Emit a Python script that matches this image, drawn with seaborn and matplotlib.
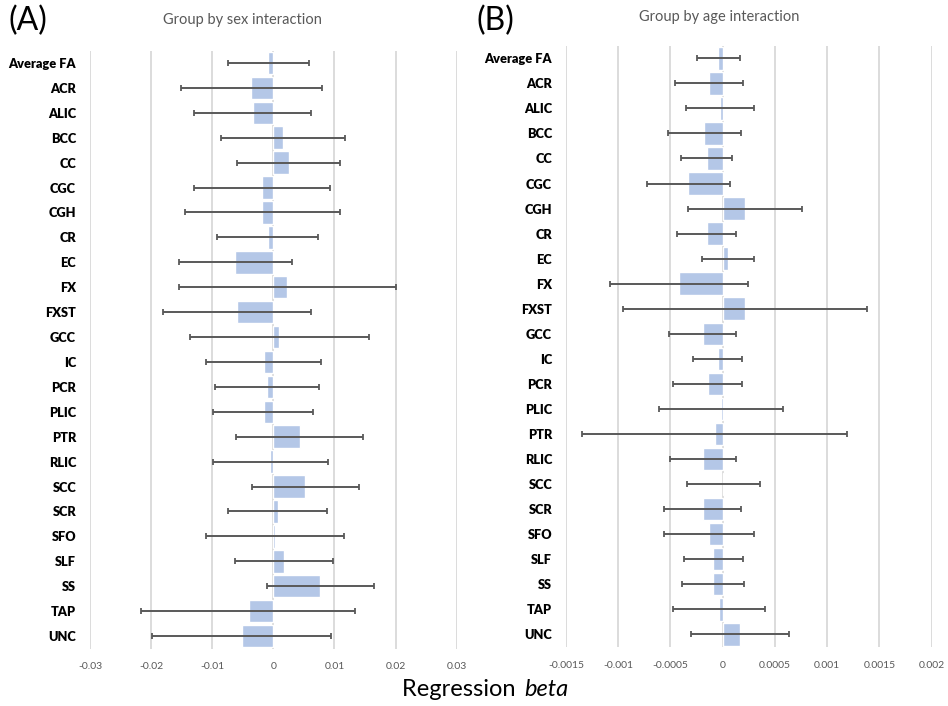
import numpy as np
import pandas as pd
import matplotlib
matplotlib.use("Agg")
import matplotlib.pyplot as plt
import seaborn as sns

# White-matter tracts (rows, top to bottom)
tracts = ["Average FA", "ACR", "ALIC", "BCC", "CC", "CGC", "CGH", "CR", "EC", "FX",
          "FXST", "GCC", "IC", "PCR", "PLIC", "PTR", "RLIC", "SCC", "SCR", "SFO",
          "SLF", "SS", "TAP", "UNC"]

# (A) Group by sex interaction: beta and 95% CI bounds
sex_beta = [-0.0008, -0.0036, -0.0033, 0.0016, 0.0025, -0.0019, -0.0018, -0.0009,
            -0.0062, 0.0023, -0.0059, 0.0010, -0.0016, -0.0010, -0.0016, 0.0043,
            -0.0005, 0.0052, 0.0007, 0.0002, 0.0017, 0.0077, -0.0040, -0.0052]
sex_lo = [-0.0074, -0.0151, -0.0130, -0.0086, -0.0060, -0.0130, -0.0145, -0.0092,
          -0.0154, -0.0154, -0.0181, -0.0136, -0.0111, -0.0095, -0.0099, -0.0061,
          -0.0098, -0.0035, -0.0075, -0.0111, -0.0062, -0.0011, -0.0216, -0.0199]
sex_hi = [0.0058, 0.0080, 0.0062, 0.0117, 0.0109, 0.0092, 0.0109, 0.0073,
          0.0030, 0.0201, 0.0062, 0.0156, 0.0078, 0.0074, 0.0065, 0.0146,
          0.0089, 0.0140, 0.0088, 0.0116, 0.0097, 0.0164, 0.0134, 0.0095]

# (B) Group by age interaction: beta and 95% CI bounds
age_beta = [-0.000045, -0.000135, -0.000025, -0.000175, -0.000155, -0.000330, 0.000215, -0.000148,
            0.000050, -0.000415, 0.000210, -0.000188, -0.000048, -0.000142, -0.000018, -0.000075,
            -0.000186, 0.000008, -0.000192, -0.000130, -0.000090, -0.000096, -0.000036, 0.000165]
age_lo = [-0.000250, -0.000460, -0.000350, -0.000525, -0.000404, -0.000729, -0.000331, -0.000433,
          -0.000197, -0.001080, -0.000959, -0.000513, -0.000283, -0.000475, -0.000608, -0.001344,
          -0.000500, -0.000338, -0.000564, -0.000560, -0.000373, -0.000392, -0.000480, -0.000306]
age_hi = [0.000166, 0.000197, 0.000300, 0.000172, 0.000092, 0.000070, 0.000761, 0.000130,
          0.000296, 0.000245, 0.001380, 0.000130, 0.000188, 0.000188, 0.000573, 0.001191,
          0.000127, 0.000354, 0.000178, 0.000296, 0.000194, 0.000200, 0.000408, 0.000637]

sex_ticks = [-0.03, -0.02, -0.01, 0, 0.01, 0.02, 0.03]
sex_ticklabels = ["-0.03", "-0.02", "-0.01", "0", "0.01", "0.02", "0.03"]
age_ticks = [-0.0015, -0.001, -0.0005, 0, 0.0005, 0.001, 0.0015, 0.002]
age_ticklabels = ["-0.0015", "-0.001", "-0.0005", "0", "0.0005", "0.001", "0.0015", "0.002"]

sns.set_theme(style="white")
plt.rcParams["font.family"] = ["Lato", "DejaVu Sans"]

BAR = "#b4c7e7"
ERR = "#595959"
GRID = "#d9d9d9"
GREY_TXT = "#595959"

W, H = 948, 706
fig = plt.figure(figsize=(W / 100, H / 100), dpi=100)


def px_axes(x0, y0, x1, y1):
    return fig.add_axes([x0 / W, 1 - y1 / H, (x1 - x0) / W, (y1 - y0) / H])


def panel(ax, beta, lo, hi, ticks, ticklabels):
    df = pd.DataFrame({"tract": tracts, "beta": beta, "lo": lo, "hi": hi})
    sns.barplot(data=df, y="tract", x="beta", orient="h", color=BAR, saturation=1,
                width=0.9, errorbar=None, ax=ax, zorder=2)
    b = df["beta"].to_numpy()
    ax.errorbar(b, np.arange(len(df)),
                xerr=[b - df["lo"].to_numpy(), df["hi"].to_numpy() - b],
                fmt="none", ecolor=ERR, elinewidth=1.4, capsize=2.5, capthick=1.3, zorder=3)
    ax.set_xlim(ticks[0], ticks[-1])
    ax.set_ylim(len(df) - 0.5, -0.5)
    ax.set_xticks(ticks)
    ax.set_xticklabels(ticklabels)
    ax.set_xlabel("")
    ax.set_ylabel("")
    ax.grid(axis="x", color=GRID, lw=1.3)
    ax.grid(axis="y", visible=False)
    ax.set_axisbelow(True)
    for s in ax.spines.values():
        s.set_visible(False)
    ax.tick_params(axis="y", length=0, pad=10, labelsize=9.2, labelcolor="black")
    ax.tick_params(axis="x", length=0, pad=10, labelsize=7.5, labelcolor=GREY_TXT)
    for t in ax.get_yticklabels():
        t.set_fontweight("heavy")


ax1 = px_axes(90, 50.5, 456.7, 648.5)
panel(ax1, sex_beta, sex_lo, sex_hi, sex_ticks, sex_ticklabels)

ax2 = px_axes(566, 45.8, 931.7, 646.8)
panel(ax2, age_beta, age_lo, age_hi, age_ticks, age_ticklabels)

fig.text(9 / W, 1 - 21 / H, "(A)", fontsize=23, color="black", va="center", ha="left")
fig.text(476 / W, 1 - 21 / H, "(B)", fontsize=23, color="black", va="center", ha="left")
fig.text(242 / W, 1 - 20 / H, "Group by sex interaction", fontsize=10.5,
         color=GREY_TXT, va="center", ha="center")
fig.text(719 / W, 1 - 17 / H, "Group by age interaction", fontsize=10.5,
         color=GREY_TXT, va="center", ha="center")

fig.text(522 / W, 1 - 689 / H, "Regression ", fontsize=17, color="black",
         va="center", ha="right")
fig.text(524 / W, 1 - 689 / H, "beta", fontsize=17, color="black", style="italic",
         va="center", ha="left")

fig.savefig("out.png", dpi=100, facecolor="white")
